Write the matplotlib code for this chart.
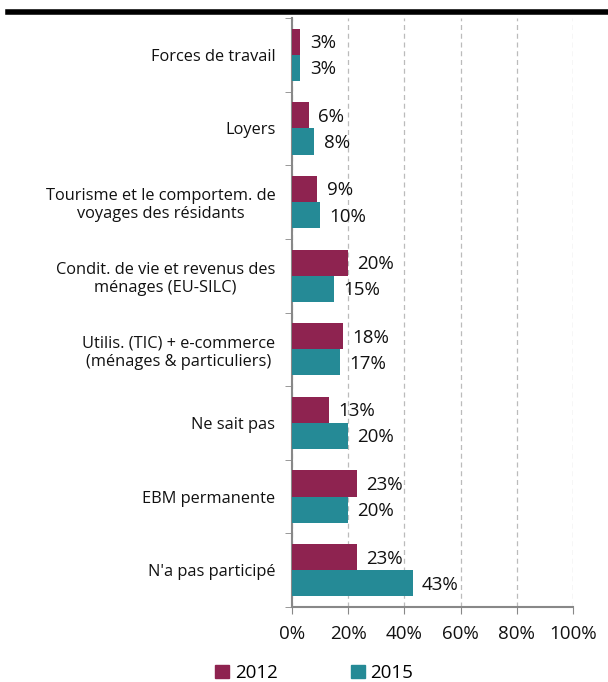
import matplotlib
matplotlib.use("Agg")
import matplotlib.pyplot as plt
import numpy as np
from matplotlib.lines import Line2D

categories = ["Forces de travail", "Loyers", "Tourisme et le comportem. de\nvoyages des résidants",
              "Condit. de vie et revenus des\nménages (EU-SILC)", "Utilis. (TIC) + e-commerce\n(ménages & particuliers)",
              "Ne sait pas", "EBM permanente", "N'a pas participé"]
v2012 = [3, 6, 9, 20, 18, 13, 23, 23]
v2015 = [3, 8, 10, 15, 17, 20, 20, 43]
xticks = [0, 20, 40, 60, 80, 100]

c2012 = "#8E2350"
c2015 = "#258A96"

plt.rcParams['font.family'] = ['Open Sans', 'DejaVu Sans']
fig = plt.figure(figsize=(6.08, 6.82), dpi=100)
ax = fig.add_axes([292/608, 1-607/682, (573-292)/608, (607-18)/682])

n = len(categories)
y = np.arange(n)
h = 0.355
ax.barh(y - h/2, v2012, height=h, color=c2012, zorder=3)
ax.barh(y + h/2, v2015, height=h, color=c2015, zorder=3)
for i in range(n):
    ax.text(v2012[i] + 3.3, y[i] - h/2 + 0.02, f"{v2012[i]}%", va="center", ha="left", fontsize=13.5, color="#111111")
    ax.text(v2015[i] + 3.3, y[i] + h/2 + 0.02, f"{v2015[i]}%", va="center", ha="left", fontsize=13.5, color="#111111")

ax.set_xlim(0, 100)
ax.set_ylim(n - 0.5, -0.5)
ax.set_xticks(xticks)
ax.set_xticklabels([f"{t}%" for t in xticks], fontsize=13.5, color="#111111")
ax.set_yticks(y)
ax.set_yticklabels(categories, fontsize=11.8, multialignment="center", color="#111111")
ax.set_yticks(np.arange(-0.5, n, 1), minor=True)
ax.tick_params(axis="y", which="major", length=0, pad=12)
ax.tick_params(axis="y", which="minor", length=5, color="#888888", direction="out")
ax.tick_params(axis="x", length=5, color="#888888", direction="out", pad=8)
ax.xaxis.grid(True, linestyle=(0, (4, 3)), color="#BBBBBB", linewidth=0.9, zorder=0)
for s in ["top", "right"]:
    ax.spines[s].set_visible(False)
for s in ["left", "bottom"]:
    ax.spines[s].set_color("#888888")
    ax.spines[s].set_linewidth(1.5)

# top black rule
fig.add_artist(Line2D([8/608, 1], [1-12/682, 1-12/682], color="black", linewidth=4, transform=fig.transFigure))

handles = [plt.Rectangle((0, 0), 1, 1, color=c2012), plt.Rectangle((0, 0), 1, 1, color=c2015)]
fig.legend(handles, ["2012", "2015"], loc="center", bbox_to_anchor=(314/608, 1-673/682), ncol=2,
           frameon=False, fontsize=13.5, handlelength=0.75, handleheight=0.75, columnspacing=3.9, handletextpad=0.3)

fig.savefig("out.png", dpi=100)
